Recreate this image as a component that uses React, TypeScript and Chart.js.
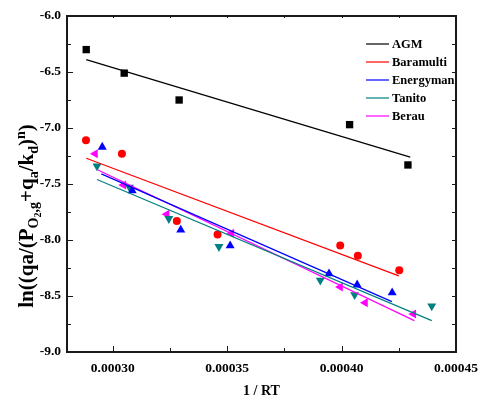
import React, { useEffect, useRef } from "react";
import { Chart, registerables } from "chart.js";

Chart.register(...registerables);

// ---- data ----
const seriesNames = ["AGM", "Baramulti", "Energyman", "Tanito", "Berau"];
const seriesColors = ["#000000", "#ff0000", "#0000ff", "#008080", "#ff00ff"];

const agmX = [0.0002884, 0.000305, 0.000329, 0.0004035, 0.000429];
const agmY = [-6.3, -6.51, -6.75, -6.97, -7.33];
const barX = [0.0002883, 0.000304, 0.000328, 0.0003458, 0.0003994, 0.0004071, 0.0004252];
const barY = [-7.11, -7.23, -7.83, -7.95, -8.05, -8.14, -8.27];
const eneX = [0.0002954, 0.0003085, 0.0003297, 0.0003513, 0.0003945, 0.0004068, 0.0004221];
const eneY = [-7.17, -7.56, -7.91, -8.05, -8.3, -8.4, -8.47];
const tanX = [0.0002931, 0.0003073, 0.0003245, 0.0003464, 0.0003907, 0.0004057, 0.0004394];
const tanY = [-7.34, -7.53, -7.81, -8.06, -8.36, -8.49, -8.59];
const berX = [0.0002923, 0.0003047, 0.0003236, 0.0003519, 0.0003994, 0.0004103, 0.0004314];
const berY = [-7.23, -7.51, -7.77, -7.94, -8.42, -8.56, -8.66];

// fitted lines: endpoints [x0, x1], [y0, y1]
const agmFitX = [0.0002884, 0.00043];
const agmFitY = [-6.39, -7.26];
const barFitX = [0.0002884, 0.000425];
const barFitY = [-7.27, -8.32];
const eneFitX = [0.000295, 0.000422];
const eneFitY = [-7.41, -8.55];
const tanFitX = [0.0002931, 0.0004394];
const tanFitY = [-7.46, -8.72];
const berFitX = [0.0002931, 0.0004318];
const berFitY = [-7.37, -8.72];

const xTicks = [0.0003, 0.00035, 0.0004, 0.00045];
const xMinorTicks = [0.000325, 0.000375, 0.000425];
const yTicks = [-9.0, -8.5, -8.0, -7.5, -7.0, -6.5, -6.0];
const yMinorTicks = [-8.75, -8.25, -7.75, -7.25, -6.75, -6.25];
const xMin = 0.00028;
const xMax = 0.00045;
const yMin = -9.0;
const yMax = -6.0;

const FONT = "'Liberation Serif', 'Times New Roman', serif";

const zip = (xs: number[], ys: number[]) => xs.map((x, i) => ({ x, y: ys[i] }));

const framePlugin = {
  id: "frameTicks",
  afterDraw(chart: any) {
    const ctx = chart.ctx as CanvasRenderingContext2D;
    const xs = chart.scales.x;
    const ys = chart.scales.y;
    const L = Math.round(xs.getPixelForValue(xMin));
    const R = Math.round(xs.getPixelForValue(xMax));
    const T = Math.round(ys.getPixelForValue(yMax));
    const B = Math.round(ys.getPixelForValue(yMin));
    ctx.save();
    ctx.fillStyle = "#1a1a1a";
    // frame as filled rects
    ctx.fillRect(L - 1, T - 1, R - L + 2, 2);
    ctx.fillRect(L - 1, B - 1, R - L + 2, 2);
    ctx.fillRect(L - 1, T - 1, 2, B - T + 2);
    ctx.fillRect(R - 1, T - 1, 2, B - T + 2);
    // ticks
    xTicks.forEach((v) => {
      const p = Math.round(xs.getPixelForValue(v));
      ctx.fillRect(p, B - 6, 1, 6);
      ctx.fillRect(p, T, 1, 2);
    });
    xMinorTicks.forEach((v) => {
      const p = Math.round(xs.getPixelForValue(v));
      ctx.fillRect(p, B - 4, 1, 4);
      ctx.fillRect(p, T, 1, 2);
    });
    yTicks.forEach((v) => {
      const p = Math.round(ys.getPixelForValue(v));
      ctx.fillRect(L, p, 6, 1);
      ctx.fillRect(R - 4, p, 4, 1);
    });
    yMinorTicks.forEach((v) => {
      const p = Math.round(ys.getPixelForValue(v));
      ctx.fillRect(L, p, 4, 1);
      ctx.fillRect(R - 4, p, 4, 1);
    });

    // legend
    const lx0 = 366;
    const lx1 = 389;
    const rows = [44, 62, 80, 98, 116];
    ctx.font = `bold 12.5px ${FONT}`;
    ctx.textBaseline = "middle";
    ctx.textAlign = "left";
    seriesNames.forEach((name, i) => {
      ctx.strokeStyle = seriesColors[i];
      ctx.lineWidth = 1.2;
      ctx.beginPath();
      ctx.moveTo(lx0, rows[i]);
      ctx.lineTo(lx1, rows[i]);
      ctx.stroke();
      ctx.fillStyle = "#000";
      ctx.fillText(name, 392, rows[i] + 1);
    });

    // y axis title with sub/superscripts
    const segs: [string, number, number][] = [
      ["ln((qa/(P", 21, 0],
      ["O", 14, 5],
      ["2", 10, 8],
      [",g", 14, 5],
      ["+q", 21, 0],
      ["a", 14, 5],
      ["/k", 21, 0],
      ["d", 14, 5],
      [")", 21, 0],
      ["n", 14, -8],
      [")", 21, 0],
    ];
    let total = 0;
    segs.forEach(([t, s]) => {
      ctx.font = `bold ${s}px ${FONT}`;
      total += ctx.measureText(t).width;
    });
    ctx.save();
    ctx.translate(33, 216);
    ctx.rotate(-Math.PI / 2);
    ctx.textBaseline = "alphabetic";
    ctx.textAlign = "left";
    ctx.fillStyle = "#000";
    let cx = -total / 2;
    segs.forEach(([t, s, dy]) => {
      ctx.font = `bold ${s}px ${FONT}`;
      ctx.fillText(t, cx, dy);
      cx += ctx.measureText(t).width;
    });
    ctx.restore();

    // x axis title
    ctx.font = `bold 14px ${FONT}`;
    ctx.textAlign = "center";
    ctx.textBaseline = "middle";
    ctx.fillStyle = "#000";
    ctx.fillText("1 / RT", (L + R) / 2, 391);
    ctx.restore();
  },
};

export default function App() {
  const ref = useRef<HTMLCanvasElement | null>(null);
  useEffect(() => {
    if (!ref.current) return;
    const pointDs = (label: string, data: any[], color: string, style: string, radius: number, rotation = 0) => ({
      label,
      data,
      showLine: false,
      pointStyle: style,
      pointRadius: radius,
      pointRotation: rotation,
      pointBackgroundColor: color,
      pointBorderColor: color,
      pointBorderWidth: 0,
      backgroundColor: color,
      borderColor: color,
    });
    const lineDs = (label: string, data: any[], color: string) => ({
      label,
      data,
      showLine: true,
      pointRadius: 0,
      borderColor: color,
      borderWidth: 1.2,
      fill: false,
    });
    const chart = new Chart(ref.current, {
      type: "scatter",
      data: {
        datasets: [
          lineDs("AGM fit", zip(agmFitX, agmFitY), seriesColors[0]),
          lineDs("Baramulti fit", zip(barFitX, barFitY), seriesColors[1]),
          lineDs("Energyman fit", zip(eneFitX, eneFitY), seriesColors[2]),
          lineDs("Tanito fit", zip(tanFitX, tanFitY), seriesColors[3]),
          lineDs("Berau fit", zip(berFitX, berFitY), seriesColors[4]),
          pointDs("AGM", zip(agmX, agmY), seriesColors[0], "rect", 5.2),
          pointDs("Baramulti", zip(barX, barY), seriesColors[1], "circle", 4),
          pointDs("Energyman", zip(eneX, eneY), seriesColors[2], "triangle", 5.2),
          pointDs("Tanito", zip(tanX, tanY), seriesColors[3], "triangle", 5.2, 180),
          pointDs("Berau", zip(berX, berY), seriesColors[4], "triangle", 5.2, -90),
        ] as any,
      },
      options: {
        animation: false,
        responsive: false,
        devicePixelRatio: 1,
        layout: { padding: { left: 0, top: 16, right: 23, bottom: 0 } },
        plugins: { legend: { display: false }, tooltip: { enabled: false } },
        scales: {
          x: {
            type: "linear",
            min: xMin,
            max: xMax,
            grid: { display: false, drawTicks: false },
            border: { display: false },
            afterBuildTicks: (s: any) => {
              s.ticks = xTicks.map((v) => ({ value: v }));
            },
            afterFit: (s: any) => {
              s.height = 51;
              s.paddingLeft = 0;
              s.paddingRight = 0;
            },
            ticks: {
              padding: 8,
              maxRotation: 0,
              color: "#000",
              font: { family: FONT, size: 13.5, weight: "bold" },
              callback: (v: any) => Number(v).toFixed(5),
            },
          },
          y: {
            type: "linear",
            min: yMin,
            max: yMax,
            grid: { display: false, drawTicks: false },
            border: { display: false },
            afterBuildTicks: (s: any) => {
              s.ticks = yTicks.map((v) => ({ value: v }));
            },
            afterFit: (s: any) => {
              s.width = 67;
              s.paddingTop = 0;
              s.paddingBottom = 0;
            },
            ticks: {
              padding: 6,
              color: "#000",
              font: { family: FONT, size: 13.5, weight: "bold" },
              callback: (v: any) => Number(v).toFixed(1),
            },
          },
        },
      } as any,
      plugins: [framePlugin],
    });
    return () => chart.destroy();
  }, []);
  return (
    <div style={{ position: "fixed", left: 0, top: 0, width: 479, height: 403, background: "#fff" }}>
      <canvas ref={ref} width={479} height={403} />
    </div>
  );
}
